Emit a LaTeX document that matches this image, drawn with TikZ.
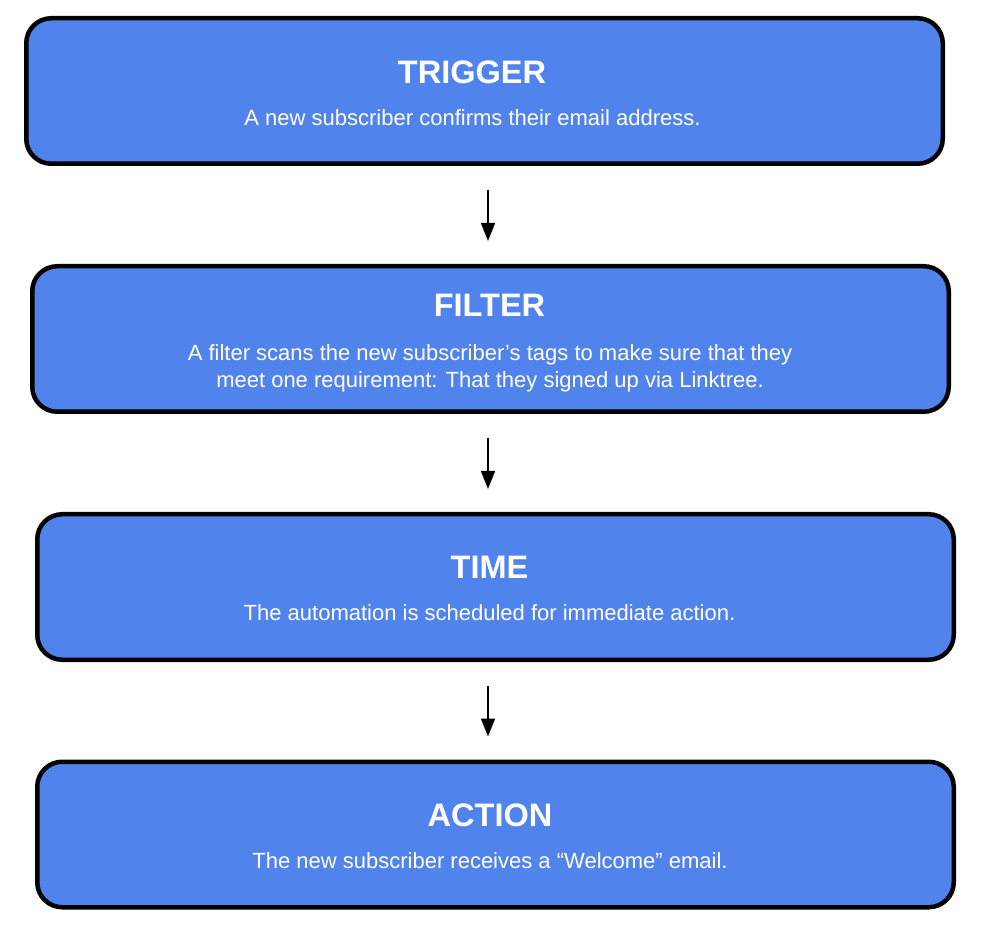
\documentclass[tikz,border=0pt]{standalone}
\usepackage{fontspec}
\setmainfont{Liberation Sans}
\usetikzlibrary{arrows.meta}

\definecolor{stepblue}{HTML}{5183EC}

\tikzset{
	stagebox/.style = {draw, line width = 4.5pt, fill = stepblue, rounded corners = 25pt,
		inner sep = 0pt, minimum width = 916.5pt, minimum height = 145.5pt},
	stagetitle/.style = {text = white, font = \bfseries\fontsize{32.5}{38}\selectfont},
	stagetext/.style = {text = white, align = center, font = \fontsize{22}{27}\selectfont},
	flow/.style = {line width = 1.5pt, -{Triangle[width = 14pt, length = 18pt]},
		shorten < = 24pt, shorten > = 23pt}
}

\begin{document}
\begin{tikzpicture}[x = 1pt, y = 1pt]
		\useasboundingbox (0, 0) rectangle (984, 932);
		\coordinate (axis) at (488, 0);
		% the four stages
		\node[stagebox] (trigger) at (484.5, 841) {};
		\node[stagebox] (filter) at (490.5, 593) {};
		\node[stagebox] (time) at (495.5, 345) {};
		\node[stagebox] (action) at (495.5, 97.5) {};
		\node[stagetitle] (triggertitle) at (472, 860) {TRIGGER};
		\node[stagetext] (triggertext) at (472.5, 814) {A new subscriber confirms their email address.};
		\node[stagetitle] (filtertitle) at (489.5, 627) {FILTER};
		\node[stagetext] (filtertext) at (490, 563.5) {A filter scans the new subscriber’s tags to make sure that they\\ meet one requirement: That they signed up via Linktree.};
		\node[stagetitle] (timetitle) at (489.5, 365) {TIME};
		\node[stagetext] (timetext) at (489.5, 319) {The automation is scheduled for immediate action.};
		\node[stagetitle] (actiontitle) at (490, 117) {ACTION};
		\node[stagetext] (actiontext) at (490, 71) {The new subscriber receives a “Welcome” email.};
		% arrows between the stages
		\draw[flow] (trigger.south -| axis) -- (filter.north -| axis);
		\draw[flow] (filter.south -| axis) -- (time.north -| axis);
		\draw[flow] (time.south -| axis) -- (action.north -| axis);
	\end{tikzpicture}
\end{document}
